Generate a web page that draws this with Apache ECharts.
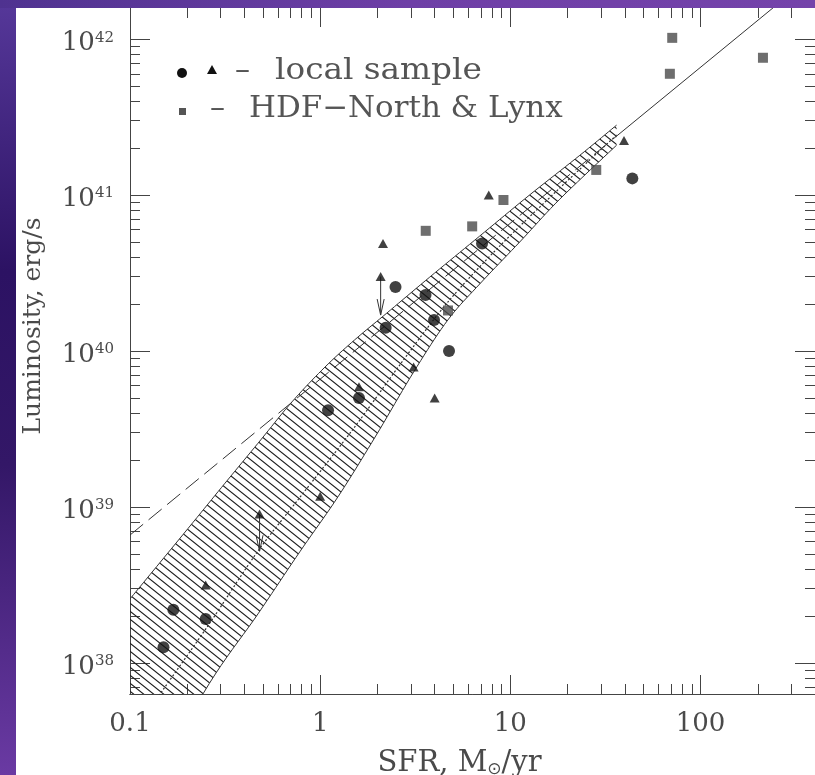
<!DOCTYPE html>
<html><head><meta charset="utf-8">
<script src="https://cdn.jsdelivr.net/npm/echarts@6/dist/echarts.min.js"></script>
<style>
html,body{margin:0;padding:0;width:815px;height:775px;overflow:hidden;}
body{position:relative;background:linear-gradient(180deg,#56389a 0%,#2c1263 35%,#331767 60%,#6a3aa3 100%);}
#top{position:absolute;left:0;top:0;width:815px;height:8px;background:linear-gradient(90deg,#4f3290 0%,#6e3fa6 50%,#7443aa 100%);}
#chart{position:absolute;left:16px;top:8px;width:799px;height:767px;background:#fff;}
</style></head><body><div id="top"></div><div id="chart"></div>
<script>
// ---- axis ranges & ticks ----
const sfrRange = [0.1, 400];
const lumRange = [6.31e37, 1.585e42];
const sfrMajor = [0.1, 1, 10, 100];
const lumMajor = [1e38, 1e39, 1e40, 1e41, 1e42];
const minorMult = [2, 3, 4, 5, 6, 7, 8, 9];

// ---- data: local sample (circles) ----
const circleSFR = [0.15, 0.169, 0.25, 1.10, 1.60, 2.21, 2.49, 3.58, 3.97, 4.76, 7.1, 43.8];
const circleLum = [1.26e38, 2.19e38, 1.91e38, 4.17e39, 5.0e39, 1.41e40, 2.57e40, 2.29e40, 1.58e40, 1.0e40, 4.9e40, 1.28e41];
// ---- local sample (triangles) ----
const triSFR = [0.25, 0.48, 1.0, 1.6, 2.08, 2.14, 3.1, 4.0, 7.7, 39.6];
const triLum = [3.16e38, 9.0e38, 1.17e39, 5.9e39, 3.0e40, 4.9e40, 7.9e39, 5.0e39, 1.0e41, 2.24e41];
// ---- HDF-North & Lynx (squares) ----
const sqSFR = [3.59, 4.7, 6.3, 9.2, 28.3, 69, 71, 213];
const sqLum = [5.9e40, 1.82e40, 6.3e40, 9.3e40, 1.45e41, 6.0e41, 1.02e42, 7.6e41];
// ---- upper-limit arrows ----
const limitSFR = [0.48, 2.08];
const limitFrom = [9.0e38, 3.0e40];
const limitTo = [5.2e38, 1.7e40];
// ---- shaded band ----
const bandUpperSFR = [0.1, 0.202, 0.316, 0.471, 0.710, 1.06, 1.52, 2.24, 3.77, 6.90, 12.6, 23.2, 36.2];
const bandUpperLum = [2.57e38, 7.28e38, 1.42e39, 2.56e39, 4.71e39, 7.89e39, 1.18e40, 1.75e40, 2.98e40, 5.46e40, 1.0e41, 1.80e41, 2.81e41];
const bandLowerSFR = [0.1, 0.242, 0.471, 0.781, 1.24, 1.96, 3.10, 4.69, 6.90, 11.2, 18.2, 36.2];
const bandLowerLum = [8.5e36, 6.32e37, 2.06e38, 5.15e38, 1.16e39, 2.85e39, 7.33e39, 1.58e40, 2.69e40, 5.0e40, 9.42e40, 2.09e41];
// ---- most probable value curve (inside band) ----
const modeSFR = [0.12, 0.144, 0.263, 0.471, 0.764, 1.52, 2.62, 4.69, 8.79, 18.2, 36.2];
const modeLum = [4.6e37, 6.32e37, 1.80e38, 5.22e38, 1.11e39, 3.26e39, 8.13e39, 2.06e40, 4.71e40, 1.11e41, 2.43e41];
// ---- linear relation: dashed (extrapolation) and solid parts ----
const linDashSFR = [0.1, 36.2];
const linDashLum = [6.6e38, 2.39e41];
const linSolidSFR = [36.2, 400];
const linSolidLum = [2.39e41, 2.64e42];

const lg = Math.log10;
const pair = (xs, ys) => xs.map((x, i) => [lg(x), lg(ys[i])]);
const xmin = lg(sfrRange[0]), xmax = lg(sfrRange[1]);
const ymin = lg(lumRange[0]), ymax = lg(lumRange[1]);
const xMajorV = sfrMajor.map(lg), yMajorV = lumMajor.map(lg);
function minors(lo, hi) {
  const out = [];
  for (let d = Math.floor(lo) - 1; d <= Math.ceil(hi); d++) {
    minorMult.forEach(m => { const v = d + lg(m); if (v > lo + 1e-3 && v < hi - 1e-3) out.push(v); });
  }
  return out;
}
const xMinorV = minors(xmin, xmax), yMinorV = minors(ymin, ymax);

// Catmull-Rom densification of a pixel polyline (rendering only)
function spline(pts, n) {
  const out = [];
  for (let i = 0; i < pts.length - 1; i++) {
    const p0 = pts[Math.max(i - 1, 0)], p1 = pts[i], p2 = pts[i + 1], p3 = pts[Math.min(i + 2, pts.length - 1)];
    for (let k = 0; k < n; k++) {
      const t = k / n, t2 = t * t, t3 = t2 * t;
      out.push([0, 1].map(j => 0.5 * ((2 * p1[j]) + (-p0[j] + p2[j]) * t + (2 * p0[j] - 5 * p1[j] + 4 * p2[j] - p3[j]) * t2 + (-p0[j] + 3 * p1[j] - 3 * p2[j] + p3[j]) * t3)));
    }
  }
  out.push(pts[pts.length - 1]);
  return out;
}

function hatchCanvas() {
  const w = 10, h = 8;
  const c = document.createElement('canvas'); c.width = w; c.height = h;
  const g = c.getContext('2d');
  g.strokeStyle = '#1e1e1e'; g.lineWidth = 1.1;
  g.beginPath();
  for (let k = -1; k <= 1; k++) { g.moveTo(-w, -h + k * h); g.lineTo(2 * w, 2 * h + k * h); }
  g.stroke();
  return c;
}
const hatch = hatchCanvas();

const FONT = '"DejaVu Serif", "Liberation Serif", serif';
const TXT = '#4a4a4a';
const AX = '#444';

function xAx(pos, major, showLabel) {
  return {
    type: 'value', position: pos, min: xmin, max: xmax, interval: 1,
    axisLine: { show: pos === 'bottom', onZero: false, lineStyle: { color: AX, width: 1 } },
    axisTick: { show: true, inside: true, length: major ? 19 : 10, lineStyle: { color: AX }, customValues: major ? xMajorV : xMinorV },
    axisLabel: showLabel ? {
      show: true, customValues: xMajorV, margin: 17, color: TXT, fontFamily: FONT, fontSize: 26,
      formatter: v => { const p = Math.pow(10, v); return p < 0.5 ? '0.1' : String(Math.round(p)); }
    } : { show: false },
    splitLine: { show: false }
  };
}
function yAx(pos, major, showLabel) {
  return {
    type: 'value', position: pos, min: ymin, max: ymax,
    axisLine: { show: pos === 'left', onZero: false, lineStyle: { color: AX, width: 1 } },
    axisTick: { show: true, inside: true, length: major ? 20 : 10, lineStyle: { color: AX }, customValues: major ? yMajorV : yMinorV },
    axisLabel: showLabel ? {
      show: true, customValues: yMajorV, margin: 16, color: TXT, fontFamily: FONT, padding: [8, 0, 0, 0],
      formatter: v => '{b|10}{s|' + Math.round(v) + '}',
      rich: {
        b: { fontSize: 26, fontFamily: FONT, color: TXT },
        s: { fontSize: 15, fontFamily: FONT, color: TXT, verticalAlign: 'top' }
      }
    } : { show: false },
    splitLine: { show: false }
  };
}

const xAxes = [xAx('bottom', true, true), xAx('bottom', false, false), xAx('top', true, false), xAx('top', false, false)];
const yAxes = [yAx('left', true, true), yAx('left', false, false), yAx('right', true, false), yAx('right', false, false)];
xAxes[0].name = '{a|SFR, M}{s|⊙}{a|/yr}';
xAxes[0].nameLocation = 'middle';
xAxes[0].nameGap = 55;
xAxes[0].nameTextStyle = { padding: [0, 26, 0, 0], rich: { a: { fontSize: 29, fontFamily: FONT, color: TXT }, s: { fontSize: 17, fontFamily: '"DejaVu Sans", sans-serif', color: TXT, verticalAlign: 'bottom' } } };
yAxes[0].name = 'Luminosity, erg/s';
yAxes[0].nameLocation = 'middle';
yAxes[0].nameGap = 84;
yAxes[0].nameTextStyle = { fontSize: 25, fontFamily: FONT, color: TXT, padding: [0, 0, 0, 50] };

const chart = echarts.init(document.getElementById('chart'), null, { renderer: 'canvas' });
chart.setOption({
  animation: false,
  backgroundColor: '#fff',
  grid: { left: 114, top: 0, right: 0, bottom: 81, containLabel: false, outerBoundsMode: 'none' },
  xAxis: xAxes,
  yAxis: yAxes,
  graphic: [
    { type: 'circle', shape: { cx: 166, cy: 65, r: 5 }, style: { fill: '#111' } },
    { type: 'polygon', shape: { points: [[196, 57], [191, 66], [201, 66]] }, style: { fill: '#111' } },
    { type: 'text', left: 219, top: 48, style: { text: '–', font: '30px ' + FONT, fill: '#555' } },
    { type: 'text', x: 259, y: 48, scaleX: 1.09, style: { text: 'local sample', font: '30px ' + FONT, fill: '#555' } },
    { type: 'rect', shape: { x: 163, y: 100, width: 7, height: 7 }, style: { fill: '#555' } },
    { type: 'text', left: 194, top: 86, style: { text: '–', font: '30px ' + FONT, fill: '#555' } },
    { type: 'text', x: 233, y: 86, scaleX: 1.03, style: { text: 'HDF−North & Lynx', font: '30px ' + FONT, fill: '#555' } }
  ],
  series: [
    {
      type: 'custom', name: 'band', xAxisIndex: 0, yAxisIndex: 0, clip: true, silent: true, z: 2,
      data: [0],
      renderItem: (params, api) => {
        const up = spline(bandUpperSFR.map((s, i) => api.coord([lg(s), lg(bandUpperLum[i])])), 10);
        const lo = spline(bandLowerSFR.map((s, i) => api.coord([lg(s), lg(bandLowerLum[i])])), 10);
        const cs = params.coordSys;
        return {
          type: 'group',
          clipPath: { type: 'rect', shape: { x: cs.x, y: cs.y, width: cs.width, height: cs.height } },
          children: [
            { type: 'polygon', shape: { points: up.concat(lo.slice().reverse()) }, style: { fill: { image: hatch, repeat: 'repeat' }, stroke: null } },
            { type: 'polyline', shape: { points: up }, style: { stroke: '#333', lineWidth: 1, fill: null } },
            { type: 'polyline', shape: { points: lo }, style: { stroke: '#333', lineWidth: 1, fill: null } }
          ]
        };
      }
    },
    {
      type: 'line', name: 'mode', xAxisIndex: 0, yAxisIndex: 0, data: pair(modeSFR, modeLum), smooth: 0.3,
      showSymbol: false, silent: true, z: 3, lineStyle: { color: '#333', width: 1.2, type: [2, 2] }
    },
    {
      type: 'line', name: 'linear (extrapolation)', xAxisIndex: 0, yAxisIndex: 0, data: pair(linDashSFR, linDashLum),
      showSymbol: false, silent: true, z: 3, lineStyle: { color: '#333', width: 1, type: [17, 7] }
    },
    {
      type: 'line', name: 'linear', xAxisIndex: 0, yAxisIndex: 0, data: pair(linSolidSFR, linSolidLum),
      showSymbol: false, silent: true, z: 3, lineStyle: { color: '#333', width: 1 }
    },
    {
      type: 'custom', name: 'limits', xAxisIndex: 0, yAxisIndex: 0, silent: true, z: 4,
      data: limitSFR.map((s, i) => [lg(s), lg(limitFrom[i]), lg(limitTo[i])]),
      renderItem: (params, api) => {
        const a = api.coord([api.value(0), api.value(1)]);
        const b = api.coord([api.value(0), api.value(2)]);
        return {
          type: 'group', children: [
            { type: 'line', shape: { x1: a[0], y1: a[1], x2: b[0], y2: b[1] }, style: { stroke: '#333', lineWidth: 1 } },
            { type: 'polyline', shape: { points: [[b[0] - 3.5, b[1] - 16], [b[0], b[1]], [b[0] + 3.5, b[1] - 16]] }, style: { stroke: '#333', lineWidth: 1, fill: null } }
          ]
        };
      }
    },
    {
      type: 'scatter', name: 'local sample (circles)', xAxisIndex: 0, yAxisIndex: 0, data: pair(circleSFR, circleLum),
      symbol: 'circle', symbolSize: 12, itemStyle: { color: '#111' }, z: 5
    },
    {
      type: 'scatter', name: 'local sample (triangles)', xAxisIndex: 0, yAxisIndex: 0, data: pair(triSFR, triLum),
      symbol: 'triangle', symbolSize: [10, 9], itemStyle: { color: '#111' }, z: 5
    },
    {
      type: 'scatter', name: 'HDF-North & Lynx', xAxisIndex: 0, yAxisIndex: 0, data: pair(sqSFR, sqLum),
      symbol: 'rect', symbolSize: 10, itemStyle: { color: '#4a4a4a' }, z: 5
    }
  ]
});
</script></body></html>
